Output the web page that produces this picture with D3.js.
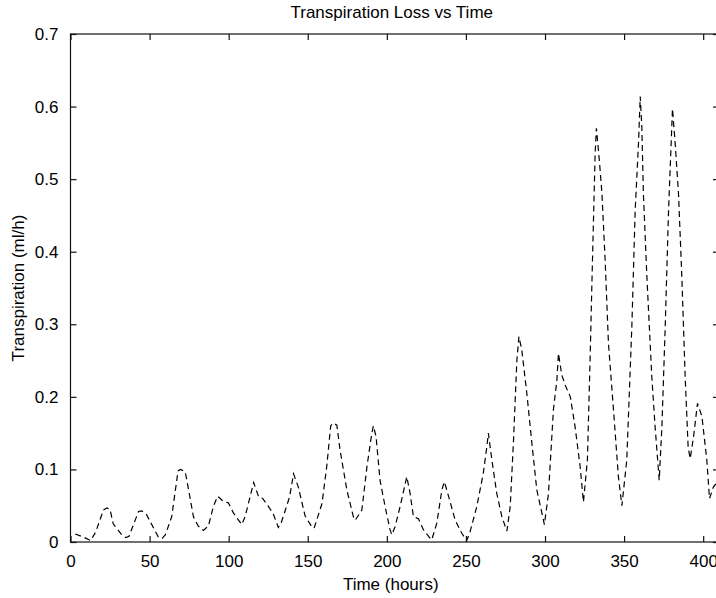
<!DOCTYPE html>
<html>
<head>
<meta charset="utf-8">
<script src="https://cdn.jsdelivr.net/npm/d3@7"></script>
<style>
html,body{margin:0;padding:0;background:#fff;}
svg{display:block;}
text{font-family:"Liberation Sans","Arial",sans-serif;fill:#000;}
</style>
</head>
<body>
<svg id="chart" width="716" height="598"></svg>
<script>
const timeHours = [3,8,12.8,16,20.8,23,25,27,32.4,35,37,43,45,48,55.5,58,60,64,68,69.5,72.5,74.5,77.7,80.8,84,87.2,90.3,93,96.6,99.8,103,108.3,110.4,115.8,119,121.5,128,131.4,133,138.5,141,144,148.3,152.5,154,159,162,164.5,166,168.4,170.4,174.7,178.8,180,184.2,187.5,190.5,191.5,193.2,195.7,198.9,202,203.1,205.2,208.4,212.6,214.7,216.8,220,223.1,227.4,228.4,231.6,234.8,236.4,238.9,243.2,247.4,250.5,252.6,256.9,261,263.2,264.2,266.4,269.5,272.7,275.9,278,280,282.2,283.5,285.3,288.5,291.7,294.8,298,299.6,302.2,305.3,307.5,308.5,310.6,313,316,319,322.2,324.3,326.8,328.5,329.6,331.7,332.5,334.5,336,338,340.1,343.3,346.4,348.6,351.7,354.9,357,359.1,360.2,361.2,362.2,364.4,367.5,369.6,372.2,373.9,376,378.1,380.6,382.3,384.4,386.5,388.6,390.5,391.8,393.9,396.4,399.2,402.3,404,406.5,408];
const transpiration = [0.011,0.007,0.002,0.014,0.044,0.047,0.045,0.025,0.010,0.006,0.008,0.042,0.043,0.038,0.007,0.005,0.010,0.035,0.098,0.100,0.097,0.074,0.035,0.022,0.016,0.022,0.049,0.063,0.056,0.054,0.040,0.024,0.035,0.082,0.062,0.060,0.040,0.020,0.025,0.062,0.094,0.076,0.036,0.021,0.019,0.053,0.104,0.160,0.164,0.161,0.127,0.072,0.035,0.030,0.044,0.105,0.150,0.160,0.145,0.085,0.049,0.017,0.010,0.021,0.049,0.090,0.067,0.035,0.032,0.017,0.005,0.003,0.026,0.072,0.083,0.064,0.030,0.012,0.002,0.014,0.049,0.095,0.131,0.150,0.113,0.067,0.035,0.015,0.049,0.136,0.250,0.283,0.265,0.205,0.136,0.072,0.040,0.024,0.067,0.182,0.223,0.260,0.230,0.215,0.200,0.159,0.104,0.055,0.113,0.251,0.352,0.536,0.570,0.522,0.480,0.389,0.274,0.182,0.090,0.050,0.113,0.297,0.457,0.549,0.614,0.572,0.480,0.366,0.228,0.159,0.085,0.159,0.297,0.457,0.597,0.549,0.480,0.366,0.228,0.130,0.115,0.145,0.191,0.173,0.113,0.060,0.076,0.080];
const xTicks = [0,50,100,150,200,250,300,350,400];
const yTicks = [0,0.1,0.2,0.3,0.4,0.5,0.6,0.7];
const titleText = "Transpiration Loss vs Time";
const xLabelText = "Time (hours)";
const yLabelText = "Transpiration (ml/h)";

const svg = d3.select("#chart");
const L = 70.5, R = 719, T = 34, B = 542;
const x = d3.scaleLinear().domain([0, 410]).range([L, R]);
const y = d3.scaleLinear().domain([0, 0.7]).range([B, T]);
const fmt = d => (d === 0 ? "0" : d3.format(".1f")(d));

// frame
svg.append("rect").attr("x", L).attr("y", T).attr("width", R - L).attr("height", B - T)
  .attr("fill", "none").attr("stroke", "#111").attr("stroke-width", 1.2);

const tl = 6;
const xb = svg.append("g").attr("transform", `translate(0,${B})`)
  .call(d3.axisBottom(x).tickValues(xTicks).tickSizeInner(-tl).tickSizeOuter(0).tickPadding(13).tickFormat(d3.format("d")));
xb.select(".domain").remove();
const xt = svg.append("g").attr("transform", `translate(0,${T})`)
  .call(d3.axisTop(x).tickValues(xTicks).tickSizeInner(-tl).tickSizeOuter(0).tickFormat(""));
xt.select(".domain").remove();
const yl = svg.append("g").attr("transform", `translate(${L},0)`)
  .call(d3.axisLeft(y).tickValues(yTicks).tickSizeInner(-tl).tickSizeOuter(0).tickPadding(12).tickFormat(fmt));
yl.select(".domain").remove();
const yr = svg.append("g").attr("transform", `translate(${R},0)`)
  .call(d3.axisRight(y).tickValues(yTicks).tickSizeInner(-tl).tickSizeOuter(0).tickFormat(""));
yr.select(".domain").remove();
svg.selectAll(".tick line").attr("stroke", "#111").attr("stroke-width", 1.2);
svg.selectAll(".tick text").style("font-size", "17px").style("font-family", "'Liberation Sans', Arial, sans-serif");

const line = d3.line().x((d, i) => x(timeHours[i])).y(d => y(d));
svg.append("path").datum(transpiration)
  .attr("d", line).attr("fill", "none").attr("stroke", "#000")
  .attr("stroke-width", 1.2).attr("stroke-dasharray", "6,4");

svg.append("text").attr("x", (L + R) / 2 - 3).attr("y", 18).attr("text-anchor", "middle")
  .style("font-size", "17px").text(titleText);
svg.append("text").attr("x", (L + R) / 2 - 4).attr("y", 590).attr("text-anchor", "middle")
  .style("font-size", "17px").text(xLabelText);
svg.append("text").attr("transform", `translate(24,${(T + B) / 2}) rotate(-90)`).attr("text-anchor", "middle")
  .style("font-size", "17px").text(yLabelText);
</script>
</body>
</html>
